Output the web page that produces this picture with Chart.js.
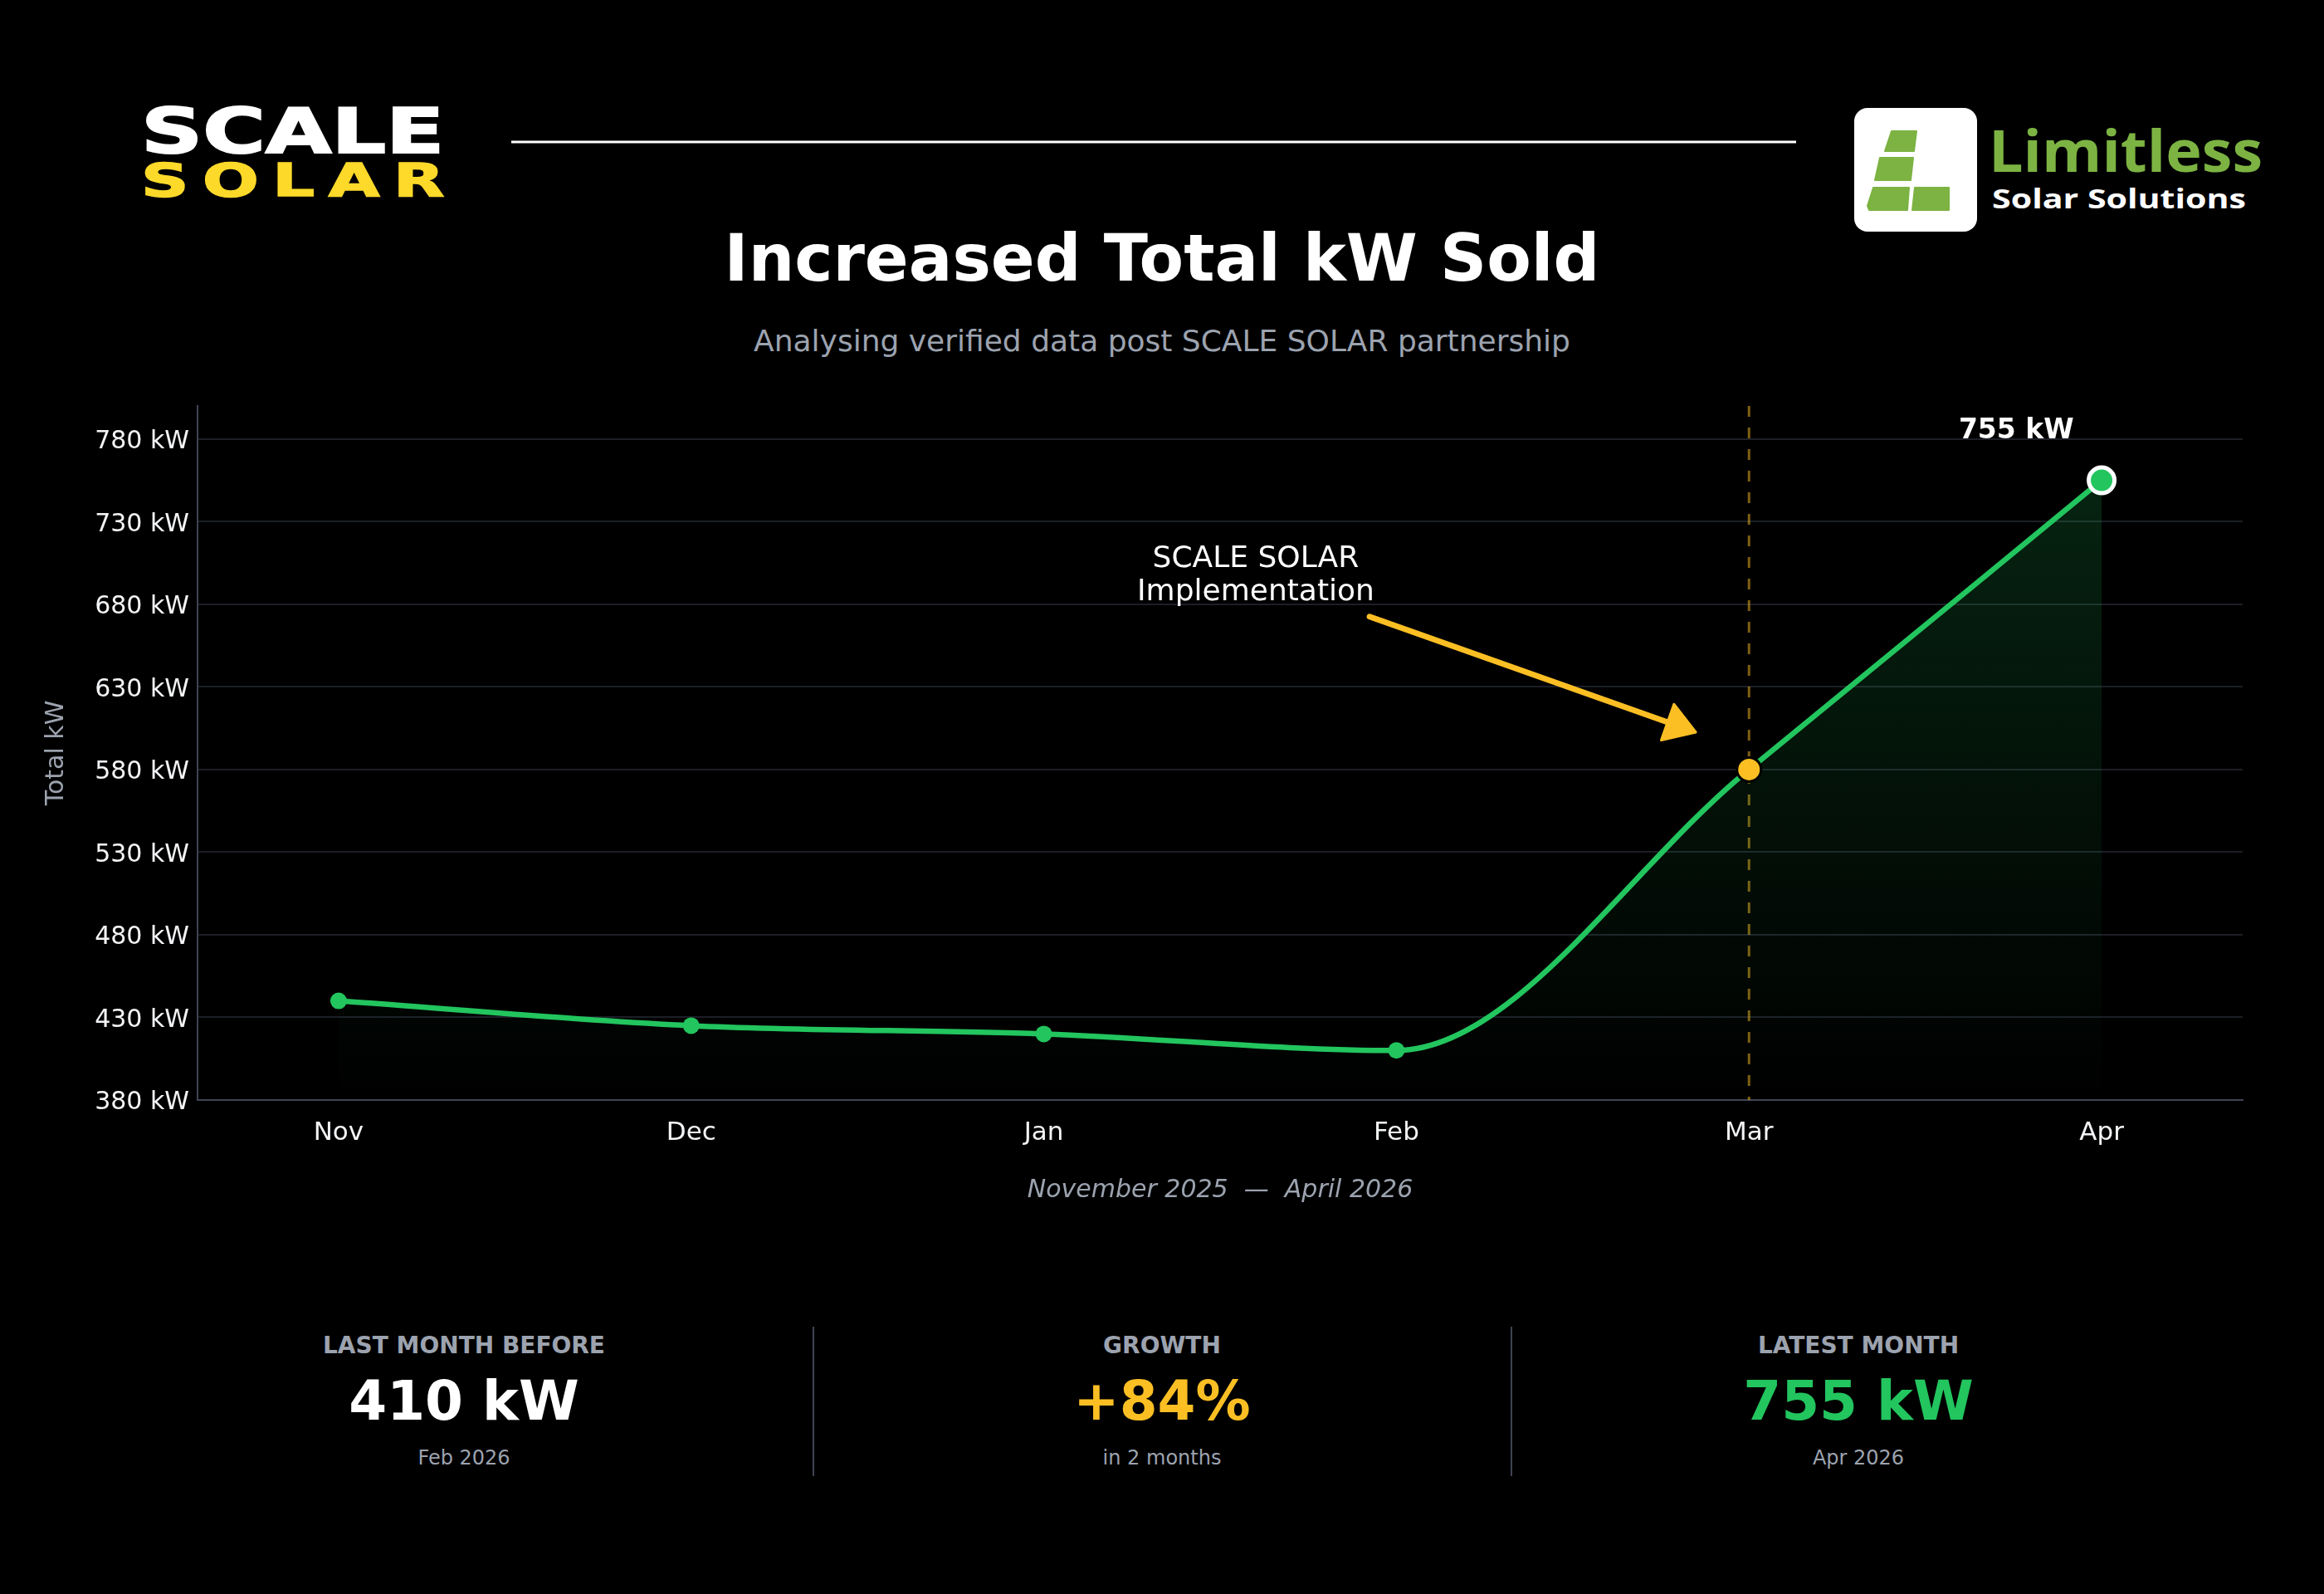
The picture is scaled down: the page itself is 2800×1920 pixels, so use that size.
<!DOCTYPE html>
<html>
<head>
<meta charset="utf-8">
<script src="https://cdn.jsdelivr.net/npm/chart.js@4.4.1/dist/chart.umd.min.js"></script>
<style>
html,body{margin:0;padding:0;background:#000;}
body{width:2800px;height:1920px;position:relative;overflow:hidden;font-family:'DejaVu Sans',sans-serif;}
#deco{position:absolute;left:0;top:0;z-index:0;}
#chart{position:absolute;left:0;top:0;z-index:1;}
</style>
</head>
<body>
<svg id="deco" width="2800" height="1920" viewBox="0 0 2800 1920" xmlns="http://www.w3.org/2000/svg">
  <!-- SCALE SOLAR logo -->
  <g transform="translate(170,184) scale(1.4,1)">
    <text x="0" y="0" font-family="DejaVu Sans" font-weight="bold" font-size="75" fill="#ffffff" stroke="#ffffff" stroke-width="2" textLength="261" lengthAdjust="spacingAndGlyphs">SCALE</text>
  </g>
  <g transform="translate(170,236) scale(1.45,1)">
    <text x="0" y="0" font-family="DejaVu Sans" font-weight="bold" font-size="55" fill="#fdd92a" stroke="#fdd92a" stroke-width="1.5" textLength="252" lengthAdjust="spacing">SOLAR</text>
  </g>
  <line x1="616" y1="171" x2="2164" y2="171" stroke="#ffffff" stroke-width="3"/>
  <!-- Limitless logo -->
  <rect x="2234" y="130" width="148" height="149" rx="16" ry="16" fill="#ffffff"/>
  <g fill="#7cb342" stroke="#7cb342" stroke-width="2" stroke-linejoin="round">
    <polygon points="2279,158 2309,158 2306,182 2271,182"/>
    <polygon points="2265,190 2305,190 2302,217 2259,217"/>
    <polygon points="2257,226 2300,226 2298,253 2252,253 2250,248"/>
    <polygon points="2307,226 2348,226 2348,253 2304,253"/>
  </g>
  <text x="2396" y="207" font-family="Open Sans" font-weight="700" font-size="70" fill="#7cb342" textLength="330" lengthAdjust="spacingAndGlyphs">Limitless</text>
  <text x="2400" y="251" font-family="Open Sans" font-weight="700" font-size="33" fill="#ffffff" textLength="306" lengthAdjust="spacingAndGlyphs">Solar Solutions</text>
  <!-- Title -->
  <text x="1400" y="338" text-anchor="middle" font-family="DejaVu Sans" font-weight="bold" font-size="78" fill="#ffffff">Increased Total kW Sold</text>
  <text x="1400" y="423" text-anchor="middle" font-family="DejaVu Sans" font-size="36" fill="#9ca3af">Analysing verified data post SCALE SOLAR partnership</text>
  <!-- Stats -->
  <g font-family="DejaVu Sans" text-anchor="middle">
    <text x="559" y="1630" font-weight="bold" font-size="28" fill="#9ca3af">LAST MONTH BEFORE</text>
    <text x="559" y="1710" font-weight="bold" font-size="66" fill="#ffffff">410 kW</text>
    <text x="559" y="1764" font-size="24" fill="#9ca3af">Feb 2026</text>
    <text x="1400" y="1630" font-weight="bold" font-size="28" fill="#9ca3af">GROWTH</text>
    <text x="1400" y="1710" font-weight="bold" font-size="66" fill="#fbbf24">+84%</text>
    <text x="1400" y="1764" font-size="24" fill="#9ca3af">in 2 months</text>
    <text x="2239" y="1630" font-weight="bold" font-size="28" fill="#9ca3af">LATEST MONTH</text>
    <text x="2239" y="1710" font-weight="bold" font-size="66" fill="#22c55e">755 kW</text>
    <text x="2239" y="1764" font-size="24" fill="#9ca3af">Apr 2026</text>
  </g>
  <line x1="980" y1="1598" x2="980" y2="1778" stroke="#3f4452" stroke-width="2"/>
  <line x1="1821" y1="1598" x2="1821" y2="1778" stroke="#3f4452" stroke-width="2"/>
</svg>
<canvas id="chart" width="2800" height="1920" style="width:2800px;height:1920px"></canvas>
<script>
// ---- data ----
const months = ['Nov', 'Dec', 'Jan', 'Feb', 'Mar', 'Apr'];
const totalKW = [440, 425, 420, 410, 580, 755];
const yTickValues = [380, 430, 480, 530, 580, 630, 680, 730, 780];
const yUnit = ' kW';
const implIndex = 4;                 // Mar: SCALE SOLAR implementation
const implLabel = ['SCALE SOLAR', 'Implementation'];
const latestLabel = '755 kW';
const xTitle = 'November 2025  —  April 2026';
const yTitle = 'Total kW';

// ---- placement (data coordinates) ----
const yRange = {min: 380, max: 800};
const xRange = {min: -0.4, max: 5.4};
const arrowFrom = {x: 2.924, y: 672.5};
const arrowTo = {x: 3.849, y: 602.6};
const implLabelPos = {x: 2.601, y: [702.6, 682.5]};
const latestLabelPos = {x: 4.758, y: 780.5};

const GREEN = '#22c55e', YELLOW = '#fbbf24', GRAY = '#9ca3af', FONT = "'DejaVu Sans', sans-serif";

const points = totalKW.map((v, i) => ({x: i, y: v}));
const lastIndex = totalKW.length - 1;

const annotPlugin = {
  id: 'annot',
  beforeDatasetsDraw(chart) {
    const {ctx, chartArea, scales: {x}} = chart;
    const px = x.getPixelForValue(implIndex);
    ctx.save();
    ctx.strokeStyle = 'rgba(251,191,36,0.5)';
    ctx.lineWidth = 3;
    ctx.setLineDash([13, 13]);
    ctx.beginPath();
    ctx.moveTo(px, chartArea.top);
    ctx.lineTo(px, chartArea.bottom);
    ctx.stroke();
    ctx.restore();
  },
  afterDatasetsDraw(chart) {
    const {ctx, scales: {x, y}} = chart;
    ctx.save();
    // arrow
    const x1 = x.getPixelForValue(arrowFrom.x), y1 = y.getPixelForValue(arrowFrom.y);
    const x2 = x.getPixelForValue(arrowTo.x), y2 = y.getPixelForValue(arrowTo.y);
    const ang = Math.atan2(y2 - y1, x2 - x1);
    const headLen = 36, headHalf = 23;
    const bx = x2 - Math.cos(ang) * headLen, by = y2 - Math.sin(ang) * headLen;
    ctx.strokeStyle = YELLOW; ctx.fillStyle = YELLOW;
    ctx.lineWidth = 7; ctx.lineCap = 'round';
    ctx.beginPath(); ctx.moveTo(x1, y1); ctx.lineTo(bx + Math.cos(ang) * 4, by + Math.sin(ang) * 4); ctx.stroke();
    ctx.lineJoin = 'round'; ctx.lineWidth = 3;
    ctx.beginPath();
    ctx.moveTo(x2, y2);
    ctx.lineTo(bx + Math.sin(ang) * headHalf, by - Math.cos(ang) * headHalf);
    ctx.lineTo(bx - Math.sin(ang) * headHalf, by + Math.cos(ang) * headHalf);
    ctx.closePath(); ctx.fill(); ctx.stroke();
    // implementation label
    ctx.fillStyle = '#ffffff';
    ctx.font = '36px ' + FONT;
    ctx.textAlign = 'center'; ctx.textBaseline = 'alphabetic';
    const lx = x.getPixelForValue(implLabelPos.x);
    implLabel.forEach((t, i) => ctx.fillText(t, lx, y.getPixelForValue(implLabelPos.y[i])));
    // latest label
    ctx.font = 'bold 33px ' + FONT;
    ctx.fillText(latestLabel, x.getPixelForValue(latestLabelPos.x), y.getPixelForValue(latestLabelPos.y));
    ctx.restore();
  }
};

new Chart(document.getElementById('chart'), {
  type: 'line',
  data: {
    datasets: [{
      data: points,
      borderColor: GREEN,
      borderWidth: 6.5,
      cubicInterpolationMode: 'monotone',
      fill: 'start',
      backgroundColor: (c) => {
        const area = c.chart.chartArea;
        if (!area) return 'rgba(34,197,94,0.1)';
        const g = c.chart.ctx.createLinearGradient(0, area.top, 0, area.bottom);
        g.addColorStop(0, 'rgba(34,197,94,0.2)');
        g.addColorStop(1, 'rgba(34,197,94,0)');
        return g;
      },
      pointRadius: (c) => c.dataIndex === implIndex ? 14.5 : (c.dataIndex === lastIndex ? 15.5 : 10),
      pointBackgroundColor: (c) => c.dataIndex === implIndex ? YELLOW : GREEN,
      pointBorderColor: (c) => c.dataIndex === implIndex ? '#000000' : (c.dataIndex === lastIndex ? '#ffffff' : GREEN),
      pointBorderWidth: (c) => c.dataIndex === implIndex ? 3 : (c.dataIndex === lastIndex ? 5 : 0)
    }]
  },
  options: {
    responsive: false,
    animation: false,
    events: [],
    layout: {padding: {left: 0, top: 489, right: 98, bottom: 460}},
    plugins: {legend: {display: false}, tooltip: {enabled: false}},
    scales: {
      x: {
        type: 'linear',
        min: xRange.min, max: xRange.max,
        afterBuildTicks: (s) => { s.ticks = months.map((m, i) => ({value: i})); },
        afterFit: (s) => { s.height = 135; },
        ticks: {
          callback: (v) => months[v],
          color: '#f3f4f6', font: {family: FONT, size: 31}, padding: 21,
          autoSkip: false, maxRotation: 0
        },
        grid: {display: false, drawTicks: false},
        border: {display: true, color: '#3f4452', width: 2},
        title: {display: true, text: xTitle, color: GRAY, font: {family: FONT, size: 30, style: 'italic'}, padding: {top: 0, bottom: 8}}
      },
      y: {
        type: 'linear',
        min: yRange.min, max: yRange.max,
        afterBuildTicks: (s) => { s.ticks = yTickValues.map(v => ({value: v})); },
        afterFit: (s) => { s.width = 238; },
        ticks: {
          callback: (v) => v + yUnit,
          color: '#f3f4f6', font: {family: FONT, size: 30}, padding: 10, labelOffset: 3.5
        },
        grid: {color: '#1c1f27', lineWidth: 2, drawTicks: false},
        border: {display: true, color: '#3f4452', width: 2},
        title: {display: true, text: yTitle, color: GRAY, font: {family: FONT, size: 30}, padding: {top: 50, bottom: 0}}
      }
    }
  },
  plugins: [annotPlugin]
});
</script>
</body>
</html>
